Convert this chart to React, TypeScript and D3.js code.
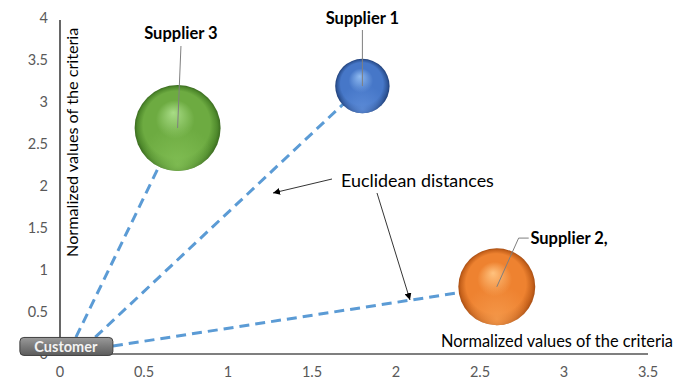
import React from "react";
import * as d3 from "d3";

const suppliers = ["Supplier 1", "Supplier 2,", "Supplier 3"];
const supplierX = [1.8, 2.6, 0.7];
const supplierY = [3.19, 0.8, 2.69];
const supplierSize = [0.4, 0.8, 1.0];
const xTicks = [0, 0.5, 1, 1.5, 2, 2.5, 3, 3.5];
const yTicks = [0, 0.5, 1, 1.5, 2, 2.5, 3, 3.5, 4];
// start points (in data units) of the dashed distance lines near the customer
const linkStartX = [0.21, 0.315, 0.095];
const linkStartY = [0.2, 0.095, 0.2];
const customerX = 0.035;
const customerY = 0.09;

const W = 686;
const H = 379;

const palettes = [
  { hi: "#8fbaf0", mid: "#4677c8", dark: "#2f5699", lo: "#1f3f78", refl: "#5d8cd8" },
  { hi: "#ffc27e", mid: "#ee8230", dark: "#c8631c", lo: "#a94f14", refl: "#f59a4c" },
  { hi: "#a8dc86", mid: "#6dab41", dark: "#4f8a2c", lo: "#3b6b20", refl: "#82bf55" },
];

export default function App() {
  const x = d3.scaleLinear().domain([0, 3.5]).range([60, 648]);
  const y = d3.scaleLinear().domain([0, 4]).range([354, 18]);
  const r = d3.scaleSqrt().domain([0, 1]).range([0, 43]);
  const font = "Lato, 'Open Sans', sans-serif";
  const tickColor = "#595959";

  return (
    <div style={{ position: "absolute", left: 0, top: 0 }}>
      <svg width={W} height={H} style={{ display: "block", background: "#fff" }}>
        <defs>
          {palettes.map((p, i) => (
            <radialGradient key={i} id={`ball${i}`} cx="50%" cy="50%" r="50%" fx="45%" fy="32%">
              <stop offset="0%" stopColor={p.hi} />
              <stop offset="45%" stopColor={p.mid} />
              <stop offset="78%" stopColor={p.mid} />
              <stop offset="93%" stopColor={p.dark} />
              <stop offset="100%" stopColor={p.lo} />
            </radialGradient>
          ))}
          {palettes.map((p, i) => (
            <radialGradient key={`r${i}`} id={`refl${i}`} cx="50%" cy="92%" r="45%">
              <stop offset="0%" stopColor={p.refl} stopOpacity={0.9} />
              <stop offset="100%" stopColor={p.refl} stopOpacity={0} />
            </radialGradient>
          ))}
          <linearGradient id="custGrad" x1="0" y1="0" x2="0" y2="1">
            <stop offset="0%" stopColor="#9a9a9a" />
            <stop offset="50%" stopColor="#7a7a7a" />
            <stop offset="100%" stopColor="#5c5c5c" />
          </linearGradient>
          <marker id="arrow" viewBox="0 0 10 10" refX="10" refY="5" markerWidth="7" markerHeight="7" orient="auto-start-reverse" markerUnits="userSpaceOnUse">
            <path d="M0,0 L10,5 L0,10 z" fill="#000" />
          </marker>
        </defs>

        {/* y tick labels */}
        {yTicks.map((t) => (
          <text key={`y${t}`} x={48} y={y(t)} dy="0.35em" textAnchor="end" fontFamily={font} fontSize={14.5} fill={tickColor}>
            {t}
          </text>
        ))}
        {/* x tick labels */}
        {xTicks.map((t) => (
          <text key={`x${t}`} x={x(t)} y={372} dy="0.35em" textAnchor="middle" fontFamily={font} fontSize={14.5} fill={tickColor}>
            {t}
          </text>
        ))}

        {/* axes */}
        <line x1={x(0)} x2={x(0)} y1={y(4) + 2} y2={y(0)} stroke="#000" strokeWidth={1.2} />
        <line x1={x(0)} x2={x(3.5)} y1={y(0)} y2={y(0)} stroke="#000" strokeWidth={1.2} />

        {/* axis titles */}
        <text x={0} y={0} transform={`translate(78,${y(2.52)}) rotate(-90)`} textAnchor="middle" fontFamily={font} fontSize={16.2} fill="#000">
          Normalized values of the criteria
        </text>
        <text x={673} y={347} textAnchor="end" fontFamily={font} fontSize={16.4} fill="#000">
          Normalized values of the criteria
        </text>

        {/* dashed distance lines */}
        {suppliers.map((s, i) => (
          <line
            key={`l${i}`}
            x1={x(linkStartX[i])}
            y1={y(linkStartY[i])}
            x2={x(supplierX[i])}
            y2={y(supplierY[i])}
            stroke="#5b9bd5"
            strokeWidth={3}
            strokeDasharray="10,6"
          />
        ))}

        {/* bubbles */}
        {suppliers.map((s, i) => (
          <g key={`b${i}`}>
            <circle cx={x(supplierX[i])} cy={y(supplierY[i])} r={r(supplierSize[i])} fill={`url(#ball${i})`} />
            <circle cx={x(supplierX[i])} cy={y(supplierY[i])} r={r(supplierSize[i])} fill={`url(#refl${i})`} />
          </g>
        ))}

        {/* leader lines and labels */}
        <line x1={x(1.8)} y1={30} x2={x(supplierX[0])} y2={y(supplierY[0])} stroke="#7f7f7f" strokeWidth={1} />
        <text x={x(1.8)} y={24} textAnchor="middle" fontFamily={font} fontSize={16.5} fontWeight="bold" fill="#000">
          {suppliers[0]}
        </text>
        <line x1={x(0.72)} y1={46} x2={x(supplierX[2])} y2={y(supplierY[2])} stroke="#7f7f7f" strokeWidth={1} />
        <text x={x(0.72)} y={39} textAnchor="middle" fontFamily={font} fontSize={16.5} fontWeight="bold" fill="#000">
          {suppliers[2]}
        </text>
        <polyline
          points={`${x(supplierX[1])},${y(supplierY[1])} ${x(2.73)},${y(1.38)} ${x(2.79)},${y(1.38)}`}
          fill="none"
          stroke="#7f7f7f"
          strokeWidth={1}
        />
        <text x={x(2.8)} y={y(1.38)} dy="0.35em" textAnchor="start" fontFamily={font} fontSize={16.5} fontWeight="bold" fill="#000">
          {suppliers[1]}
        </text>

        {/* annotation */}
        <text x={341} y={187} fontFamily={font} fontSize={17.9} fill="#000">
          Euclidean distances
        </text>
        <line x1={332} y1={179} x2={273} y2={193} stroke="#000" strokeWidth={0.8} markerEnd="url(#arrow)" />
        <line x1={377} y1={193} x2={410} y2={300} stroke="#000" strokeWidth={0.8} markerEnd="url(#arrow)" />

        {/* customer box */}
        <rect x={x(customerX) - 46} y={y(customerY) - 9} width={93} height={18} rx={4} fill="url(#custGrad)" stroke="#404040" strokeWidth={1} />
        <text x={x(customerX)} y={y(customerY)} dy="0.36em" textAnchor="middle" fontFamily={font} fontSize={14.5} fontWeight="bold" fill="#f2f2f2">
          Customer
        </text>
      </svg>
    </div>
  );
}
